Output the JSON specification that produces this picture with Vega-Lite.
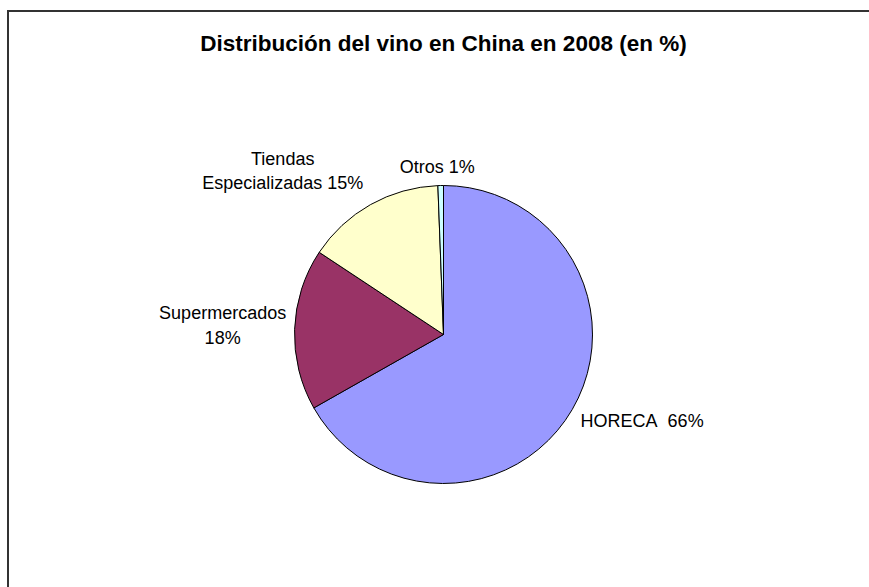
{
  "$schema": "https://vega.github.io/schema/vega-lite/v6.json",
  "width": 871,
  "height": 647,
  "autosize": "none",
  "padding": {"left": 8, "top": 11, "right": -10, "bottom": -71},
  "background": "white",
  "view": {"stroke": "#333333", "strokeWidth": 2, "fill": "white"},
  "config": {
    "view": {"stroke": "#333333", "strokeWidth": 2},
    "font": "Liberation Sans"
  },
  "title": {
    "text": "Distribución del vino en China en 2008 (en %)",
    "font": "Liberation Sans",
    "fontSize": 22.5,
    "fontWeight": "bold",
    "color": "#000000",
    "anchor": "middle",
    "frame": "group",
    "dy": 48
  },
  "data": {
    "values": [
      {"cat": "HORECA", "valor": 66.8, "orden": 1, "label": "HORECA\u00a0\u00a066%"},
      {"cat": "Supermercados", "valor": 17.5, "orden": 2, "label": "Supermercados\n18%"},
      {"cat": "Tiendas", "valor": 15.1, "orden": 3, "label": "Tiendas\nEspecializadas 15%"},
      {"cat": "Otros", "valor": 0.6, "orden": 4, "label": "Otros 1%"}
    ]
  },
  "encoding": {
    "theta": {"field": "valor", "type": "quantitative", "stack": true},
    "order": {"field": "orden", "type": "quantitative"}
  },
  "layer": [
    {
      "mark": {"type": "arc", "outerRadius": 149, "stroke": "#000000", "strokeWidth": 1},
      "encoding": {
        "color": {
          "field": "cat",
          "type": "nominal",
          "scale": {
            "domain": ["HORECA", "Supermercados", "Tiendas", "Otros"],
            "range": ["#9999FF", "#993366", "#FFFFCC", "#CCFFFF"]
          },
          "legend": null
        }
      }
    },
    {
      "mark": {"type": "text", "radius": 216, "dx": 12, "dy": -21, "fontSize": 18, "font": "Liberation Sans", "align": "center", "baseline": "middle", "lineBreak": "\n", "lineHeight": 24, "color": "#000000"},
      "encoding": {
        "text": {"condition": {"test": "datum.cat === 'HORECA'", "field": "label"}, "value": ""}
      }
    },
    {
      "mark": {"type": "text", "radius": 220, "dx": -1, "dy": -13, "fontSize": 18, "font": "Liberation Sans", "align": "center", "baseline": "middle", "lineBreak": "\n", "lineHeight": 25, "color": "#000000"},
      "encoding": {
        "text": {"condition": {"test": "datum.cat === 'Supermercados'", "field": "label"}, "value": ""}
      }
    },
    {
      "mark": {"type": "text", "radius": 222, "dx": -52, "dy": 19, "fontSize": 18, "font": "Liberation Sans", "align": "center", "baseline": "middle", "lineBreak": "\n", "lineHeight": 24, "color": "#000000"},
      "encoding": {
        "text": {"condition": {"test": "datum.cat === 'Tiendas'", "field": "label"}, "value": ""}
      }
    },
    {
      "mark": {"type": "text", "radius": 168.5, "dx": -3, "dy": 2, "fontSize": 18, "font": "Liberation Sans", "align": "center", "baseline": "middle", "lineBreak": "\n", "lineHeight": 24, "color": "#000000"},
      "encoding": {
        "text": {"condition": {"test": "datum.cat === 'Otros'", "field": "label"}, "value": ""}
      }
    }
  ]
}
